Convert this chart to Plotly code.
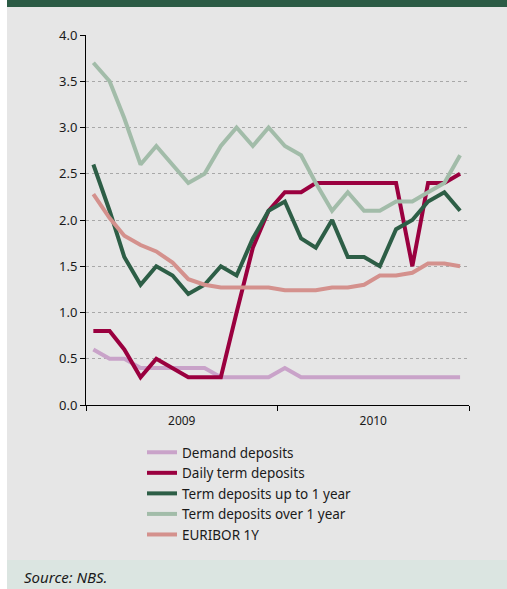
import plotly.graph_objects as go

# Monthly observations, Jan 2009 - Dec 2010 (plotted mid-month)
months = [f"{y}-{m:02d}-15" for y in (2009, 2010) for m in range(1, 13)]

demand_deposits = [0.6, 0.5, 0.5, 0.4, 0.4, 0.4, 0.4, 0.4, 0.3, 0.3, 0.3, 0.3,
                   0.4, 0.3, 0.3, 0.3, 0.3, 0.3, 0.3, 0.3, 0.3, 0.3, 0.3, 0.3]
daily_term = [0.8, 0.8, 0.6, 0.3, 0.5, 0.4, 0.3, 0.3, 0.3, 1.0, 1.7, 2.1,
              2.3, 2.3, 2.4, 2.4, 2.4, 2.4, 2.4, 2.4, 1.5, 2.4, 2.4, 2.5]
term_up_to_1y = [2.6, 2.1, 1.6, 1.3, 1.5, 1.4, 1.2, 1.3, 1.5, 1.4, 1.8, 2.1,
                 2.2, 1.8, 1.7, 2.0, 1.6, 1.6, 1.5, 1.9, 2.0, 2.2, 2.3, 2.1]
term_over_1y = [3.7, 3.5, 3.1, 2.6, 2.8, 2.6, 2.4, 2.5, 2.8, 3.0, 2.8, 3.0,
                2.8, 2.7, 2.4, 2.1, 2.3, 2.1, 2.1, 2.2, 2.2, 2.3, 2.4, 2.7]
euribor_1y = [2.28, 2.02, 1.83, 1.73, 1.66, 1.54, 1.36, 1.30, 1.27, 1.27, 1.27, 1.27,
              1.24, 1.24, 1.24, 1.27, 1.27, 1.30, 1.40, 1.40, 1.43, 1.53, 1.53, 1.50]

series = [
    ("Demand deposits", demand_deposits, "#c9a3c9"),
    ("Daily term deposits", daily_term, "#9a003f"),
    ("Term deposits up to 1 year", term_up_to_1y, "#2d5e46"),
    ("Term deposits over 1 year", term_over_1y, "#a2bca9"),
    ("EURIBOR 1Y", euribor_1y, "#d4918d"),
]

FONT = "Noto Sans"
W, H = 507, 589
L, R, T, B = 86, 469, 35, 405  # plot area in pixels


def px(xp):
    return (xp - L) / (R - L)


def py(yp):
    return (B - yp) / (B - T)


fig = go.Figure()
for name, vals, color in series:
    fig.add_trace(go.Scatter(
        x=months, y=vals, name=name, mode="lines",
        line=dict(color=color, width=4), hoverinfo="skip",
    ))

shapes = [
    # grey panel
    dict(type="rect", xref="paper", yref="paper", layer="below",
         x0=px(7), x1=px(W + 5), y0=py(560), y1=py(7),
         fillcolor="#e6e6e6", line_width=0),
    # header band
    dict(type="rect", xref="paper", yref="paper", layer="below",
         x0=px(7), x1=px(W + 5), y0=py(7), y1=py(-5),
         fillcolor="#2b5b45", line_width=0),
    # footer band
    dict(type="rect", xref="paper", yref="paper", layer="below",
         x0=px(7), x1=px(W + 5), y0=py(H + 5), y1=py(560),
         fillcolor="#dbe5e1", line_width=0),
]

fig.update_layout(
    width=W, height=H,
    margin=dict(l=L, r=W - R, t=T, b=H - B),
    paper_bgcolor="white",
    plot_bgcolor="#e6e6e6",
    font=dict(family=FONT, size=13, color="#1a1a1a"),
    shapes=shapes,
    showlegend=True,
    legend=dict(
        x=px(142), y=py(437), xanchor="left", yanchor="top",
        bgcolor="rgba(0,0,0,0)", font=dict(size=13.5, family=FONT),
        itemwidth=30, tracegroupgap=0,
    ),
    annotations=[
        dict(text="Source: NBS.", xref="paper", yref="paper",
             x=px(22), y=py(577), xanchor="left", yanchor="middle",
             showarrow=False,
             font=dict(family=FONT, size=15, color="#1a1a1a", style="italic")),
    ],
)

fig.update_xaxes(
    type="date",
    range=["2009-01-01", "2011-01-01"],
    tick0="2009-01-01", dtick="M12",
    tickformat="%Y", ticklabelmode="period",
    ticks="outside", ticklen=5, tickcolor="black", tickwidth=1,
    showline=True, linecolor="black", linewidth=1,
    showgrid=False, zeroline=False,
    tickfont=dict(size=12, family=FONT),
)
fig.update_yaxes(
    range=[0, 4], dtick=0.5, tickformat=".1f",
    ticks="outside", ticklen=5, tickcolor="black", tickwidth=1,
    showline=True, linecolor="black", linewidth=1,
    showgrid=True, gridcolor="#a8a8a8", gridwidth=1, griddash="dot",
    zeroline=False,
    tickfont=dict(size=13, family=FONT),
)

fig.write_html("out.html")
